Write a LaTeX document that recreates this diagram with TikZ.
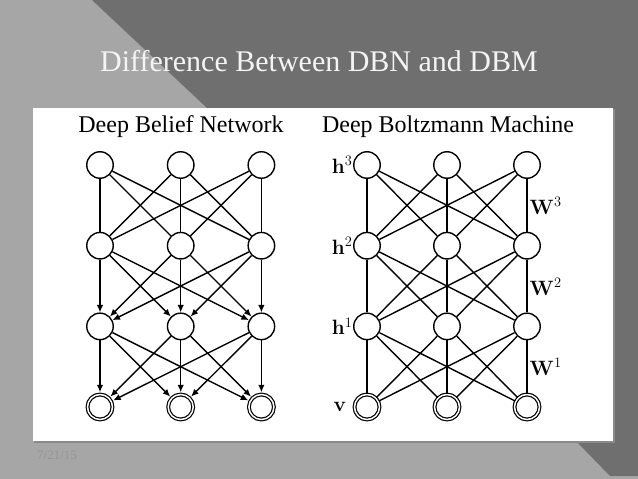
\documentclass[tikz,border=0pt]{standalone}
\usepackage[no-math]{fontspec}
\setmainfont{Liberation Serif}
\usetikzlibrary{arrows.meta}
\definecolor{bglight}{HTML}{A6A6A6}
\definecolor{bgdark}{HTML}{6F6F6F}
\definecolor{shadowc}{HTML}{8A8A8A}
\definecolor{footc}{HTML}{959595}
\definecolor{titlec}{HTML}{F4F4F4}
\newcommand{\labsize}{\fontsize{19.5}{22}\selectfont}
\begin{document}
\begin{tikzpicture}[x=1pt,y=-1pt,
  unit/.style={circle,draw,line width=1.4pt,fill=white,minimum size=26.5pt,inner sep=0pt},
  vis/.style={circle,draw,line width=1.2pt,double,double distance=1.5pt,fill=white,minimum size=25pt,inner sep=0pt},
  link/.style={line width=1.4pt},
  arr/.style={link,-{Latex[length=7.5pt,width=6.5pt]}},
  lab/.style={inner sep=0.5pt},
  head/.style={anchor=base,font=\fontsize{24}{28}\selectfont}]
\useasboundingbox (0,0) rectangle (638,479);
% background
\fill[bglight] (0,0) rectangle (638,479);
\fill[bgdark] (92,0) -- (638,0) -- (638,476) -- (610,476) -- (576,441) -- (207,108) -- cycle;
% title
\node[anchor=base,text=titlec,font=\fontsize{30}{36}\selectfont] (title) at (319,71) {Difference Between DBN and DBM};
% panel
\fill[shadowc] (34,109) rectangle (615,443);
\fill[white] (33,108) rectangle (613,441);
% footer
\node[anchor=base west,text=footc,font=\fontsize{13}{15}\selectfont,inner sep=0pt] (date) at (37,459) {7/21/15};
% headings
\node[head] (dbnh) at (181,132) {Deep Belief Network};
\node[head] (dbmh) at (448,132) {Deep Boltzmann Machine};
% DBN nodes
\foreach \c/\x in {1/100,2/180.7,3/261.4} {
  \foreach \r/\y in {1/165,2/245.7,3/326.4} {
    \node[unit] (a\r\c) at (\x,\y) {};
  }
  \node[vis] (a4\c) at (\x,407) {};
}
% DBM nodes
\foreach \c/\x in {1/367,2/447,3/527} {
  \foreach \r/\y in {1/165,2/245.7,3/326.4} {
    \node[unit] (b\r\c) at (\x,\y) {};
  }
  \node[vis] (b4\c) at (\x,407) {};
}
% DBN edges
\foreach \i in {1,2,3} {
  \foreach \j in {1,2,3} {
    \draw[link] (a1\i) -- (a2\j);
    \draw[arr] (a2\i) -- (a3\j);
    \draw[arr,shorten >=1.6pt] (a3\i) -- (a4\j);
  }
}
% DBM edges
\foreach \i in {1,2,3} {
  \foreach \j in {1,2,3} {
    \draw[link] (b1\i) -- (b2\j);
    \draw[link] (b2\i) -- (b3\j);
    \draw[link] (b3\i) -- (b4\j);
  }
}
% DBM labels
\node[lab,anchor=east] (h3) at (b11.west) {\labsize$\mathbf{h}^3$};
\node[lab,anchor=east] (h2) at (b21.west) {\labsize$\mathbf{h}^2$};
\node[lab,anchor=east] (h1) at (b31.west) {\labsize$\mathbf{h}^1$};
\node[lab,anchor=east] (v) at ([xshift=-7pt]b41.west) {\labsize$\mathbf{v}$};
\node[lab,anchor=west] (w3) at (529,206) {\labsize$\mathbf{W}^3$};
\node[lab,anchor=west] (w2) at (529,287) {\labsize$\mathbf{W}^2$};
\node[lab,anchor=west] (w1) at (529,367) {\labsize$\mathbf{W}^1$};
\end{tikzpicture}
\end{document}
